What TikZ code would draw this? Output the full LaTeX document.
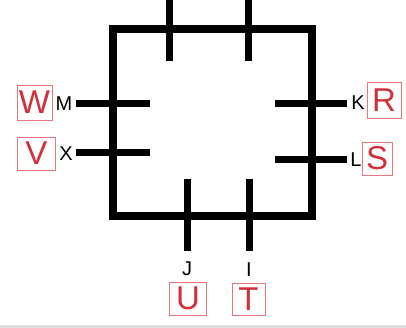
\documentclass[tikz,border=0pt]{standalone}
\usepackage{fontspec}
\setmainfont{Liberation Sans}
\definecolor{lblred}{RGB}{212,48,58}
\definecolor{boxred}{RGB}{232,120,125}
\begin{document}
\begin{tikzpicture}[x=1pt,y=-1pt,
  wall/.style={line width=7.5pt,black},
  tick/.style={line width=7pt,black},
  lbl/.style={font=\fontsize{20}{20}\selectfont,text=black,inner sep=0pt},
  rbox/.style={draw=boxred,line width=0.8pt,text=lblred,font=\fontsize{33}{33}\selectfont,inner sep=0pt,minimum height=35pt},
]
\useasboundingbox (0,0) rectangle (406,328);
\fill[white] (0,0) rectangle (406,328);
\fill[gray!25] (0,325) rectangle (406,328);
% square
\coordinate (c1) at (113,29);
\coordinate (c2) at (312,216);
\draw[wall,line cap=rect] (c1) rectangle (c2);
% top ticks
\coordinate (ta1) at (169,0); \coordinate (ta2) at (169,61);
\coordinate (tb1) at (248,0); \coordinate (tb2) at (248,61);
\draw[tick] (ta1) -- (ta2);
\draw[tick] (tb1) -- (tb2);
% left ticks
\coordinate (m1) at (76,104); \coordinate (m2) at (150,104);
\coordinate (x1) at (76,153); \coordinate (x2) at (150,153);
\draw[tick] (m1) -- (m2);
\draw[tick] (x1) -- (x2);
% right ticks
\coordinate (k1) at (275,104); \coordinate (k2) at (347,104);
\coordinate (l1) at (275,160); \coordinate (l2) at (347,160);
\draw[tick] (k1) -- (k2);
\draw[tick] (l1) -- (l2);
% bottom ticks
\coordinate (j1) at (187,179); \coordinate (j2) at (187,251);
\coordinate (i1) at (249,179); \coordinate (i2) at (249,251);
\draw[tick] (j1) -- (j2);
\draw[tick] (i1) -- (i2);
% letters
\node[lbl] (M) at (64,104) {M};
\node[lbl] (X) at (66,154) {X};
\node[lbl] (K) at (358,103) {K};
\node[lbl] (L) at (356,160) {L};
\node[lbl] (J) at (187,269) {J};
\node[lbl] (I) at (249,270) {I};
% red boxes
\node[rbox,minimum width=35pt] (W) at (34.5,102.5) {W};
\node[rbox,minimum width=38pt,minimum height=33pt] (V) at (36.5,153.5) {V};
\node[rbox,minimum width=34pt,minimum height=36pt] (R) at (384,100) {R};
\node[rbox,minimum width=30pt,minimum height=33pt] (S) at (377,158.5) {S};
\node[rbox,minimum width=37pt,minimum height=33pt] (U) at (188,298.5) {U};
\node[rbox,minimum width=33pt,minimum height=32pt] (T) at (248.5,299) {T};
\end{tikzpicture}
\end{document}
